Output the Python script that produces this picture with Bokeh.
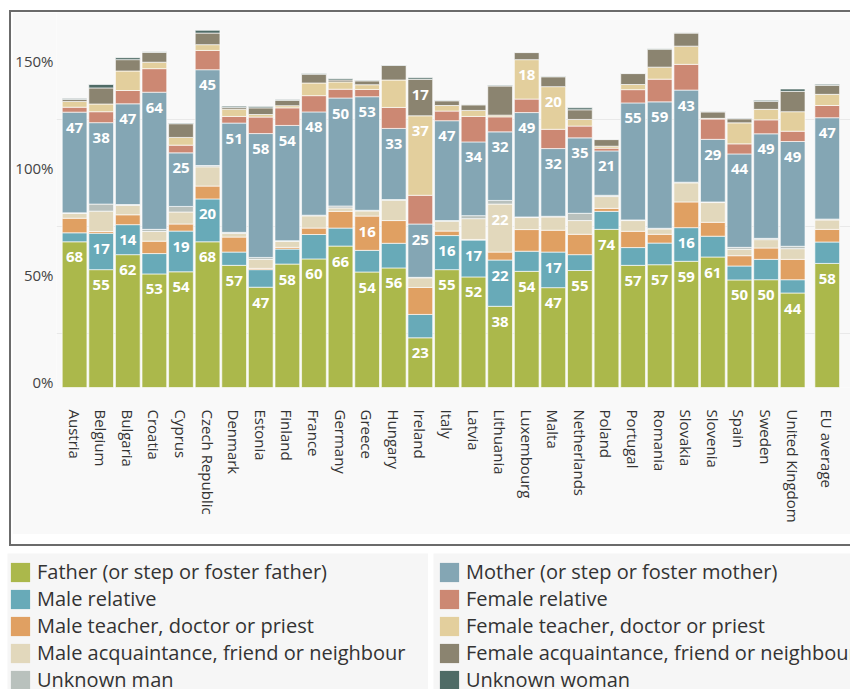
import numpy as np
from bokeh.plotting import figure
from bokeh.models import (ColumnDataSource, FixedTicker, Legend, LegendItem, Range1d, Div)
from bokeh.layouts import column, row
from bokeh.core.properties import value
from bokeh.embed import file_html
from bokeh.resources import INLINE

countries = ["Austria", "Belgium", "Bulgaria", "Croatia", "Cyprus", "Czech Republic",
             "Denmark", "Estonia", "Finland", "France", "Germany", "Greece", "Hungary",
             "Ireland", "Italy", "Latvia", "Lithuania", "Luxembourg", "Malta",
             "Netherlands", "Poland", "Portugal", "Romania", "Slovakia", "Slovenia",
             "Spain", "Sweden", "United Kingdom", "EU average"]

father = [68, 55, 62, 53, 54, 68, 57, 46.8, 57.6, 60, 66, 53.9, 55.8, 23.2, 55, 51.6, 37.9,
          54.2, 46.6, 54.6, 73.8, 57, 57.3, 58.9, 60.9, 50.2, 50.3, 44.1, 57.9]
male_relative = [4.2, 17, 14, 9.5, 19, 20, 6.2, 8.2, 7, 11.4, 8.4, 10.1, 11.5, 10.9, 15.9,
                 17.2, 21.6, 9.4, 16.6, 7.4, 8.4, 8.3, 10.1, 15.7, 9.7, 6.5, 9.5, 6.2, 10]
male_teacher = [6.8, 0.8, 4.6, 5.8, 3.3, 6, 7, 0.6, 0.8, 3, 7.8, 16, 10.6, 12.6, 2.1, 0.3,
                3.7, 10.1, 10.2, 9.5, 1.4, 7.6, 4.1, 12, 6.5, 4.8, 5.3, 9.5, 5.9]
male_acquaintance = [2.2, 9.5, 4.4, 4.5, 5.6, 9, 1.7, 4.2, 2.8, 5.7, 1.6, 2.4, 9.5, 4.5,
                     4.6, 9.7, 22.4, 5.6, 6.2, 6.4, 5.5, 5, 2.5, 8.9, 9.2, 3, 3.9, 5, 4.4]
unknown_man = [0.3, 3.3, 0.4, 1.0, 2.6, 0.6, 0.5, 0.9, 0.3, 0.3, 0.9, 0.3, 0.3, 0.2, 0.3,
               1.4, 1.7, 0.3, 0.3, 3.4, 0.6, 0.3, 0.3, 0.3, 0.3, 0.9, 0.6, 1.1, 0.4]
mother = [47, 38, 47, 64, 25, 44.7, 51, 57.8, 53.8, 48.2, 50.4, 53, 33.2, 24.9, 46.6, 34.4,
          32, 48.7, 31.6, 35.2, 20.7, 54.6, 59, 43, 29.2, 43.6, 48.8, 48.9, 47.3]
female_relative = [2.3, 5.1, 6.2, 11, 3.6, 9, 3.1, 7.7, 8.2, 7.6, 4.1, 3.4, 9.8, 13.4, 4.5,
                   11.9, 7, 6.3, 9, 5.5, 1.3, 6.2, 10.6, 12, 9.5, 4.7, 6.5, 4.8, 5.7]
female_teacher = [2.7, 3.6, 9.1, 3, 3.6, 2.7, 3.4, 1.2, 1, 5.9, 3.4, 2.2, 12.8, 37.1, 2.6,
                  2.8, 0.8, 18.4, 19.9, 3.1, 0.9, 2.4, 5.6, 8.5, 0.3, 9.8, 4.9, 9.1, 5.2]
female_acquaintance = [0.9, 7.5, 5.3, 4.6, 6.4, 5.4, 0.8, 3.1, 2.5, 4.1, 0.9, 1.8, 6.8, 17,
                       2.2, 2.6, 13.6, 3.3, 4.6, 4.5, 3.1, 5.1, 8.4, 6.1, 3, 1.9, 3.7, 9.5, 4.2]
unknown_woman = [0.5, 1.6, 0.9, 0.3, 0.3, 1.3, 0.6, 0.6, 0.4, 0.3, 0.6, 0.3, 0.2, 0.7, 0.2,
                 0.2, 0.3, 0.2, 0.2, 0.9, 0.2, 0.2, 0.2, 0.2, 0.2, 0.3, 0.5, 1.1, 0.5]

series_names = ["Father (or step or foster father)", "Male relative",
                "Male teacher, doctor or priest", "Male acquaintance, friend or neighbour",
                "Unknown man", "Mother (or step or foster mother)", "Female relative",
                "Female teacher, doctor or priest", "Female acquaintance, friend or neighbour",
                "Unknown woman"]
series_values = [father, male_relative, male_teacher, male_acquaintance, unknown_man,
                 mother, female_relative, female_teacher, female_acquaintance, unknown_woman]
colors = ["#abb84b", "#68aab8", "#e0a062", "#e2d8bc", "#b9c1bd",
          "#84a6b4", "#cc8873", "#e3cf9d", "#8b8470", "#4f6b66"]

y_ticks = [0, 50, 100, 150]
y_tick_labels = ["0%", "50%", "100%", "150%"]
grid_ticks = [25, 75, 125, 175]

FONT = "Open Sans"
DARK = "#6b6b6b"
WHITE = "white"
LABEL_RAISE = 2.35   # tick labels sit on their tick (baseline), not centred on it

# positions: countries side by side, EU average set a little apart
n = len(countries)
x_pos = [float(i) for i in range(n - 1)] + [n - 1 + 0.3]

keys = ["s%d" % i for i in range(len(series_values))]
data = {"x": x_pos}
for k, vals in zip(keys, series_values):
    data[k] = vals
src = ColumnDataSource(data)

p = figure(frame_width=796, frame_height=375, min_border_left=42, min_border_right=0,
           min_border_top=0, min_border_bottom=147,
           x_range=Range1d(-0.68, 29.25), y_range=Range1d(0, 175),
           toolbar_location=None, output_backend="svg")
p.background_fill_color = "#f9f9f9"
p.border_fill_color = "#f9f9f9"
p.outline_line_color = None

p.vbar_stack(keys, x="x", width=0.93, source=src, fill_color=colors,
             line_color="white", line_width=0.8, line_alpha=0.8)

# value labels for big segments
cum = np.zeros(n)
lx, ly, lt = [], [], []
for vals in series_values:
    v = np.array(vals, dtype=float)
    cum = cum + v
    for i in range(n):
        if v[i] >= 14:
            lx.append(x_pos[i])
            ly.append(cum[i])
            lt.append(str(int(round(v[i]))))
p.text(x=lx, y=ly, text=lt, text_align="center", text_baseline="middle",
       y_offset=15.5, text_color="white", text_font=value(FONT),
       text_font_style="bold", text_font_size="15px")

p.xgrid.visible = False
p.ygrid.ticker = FixedTicker(ticks=grid_ticks)
p.ygrid.grid_line_color = "#e9e9e9"

for ax in (p.xaxis, p.yaxis):
    ax.major_tick_line_color = None
    ax.minor_tick_line_color = None
    ax.major_tick_out = 0
    ax.major_tick_in = 0
    ax.minor_tick_out = 0
    ax.minor_tick_in = 0
    ax.axis_line_color = None
    ax.major_label_text_font = FONT
    ax.major_label_text_font_size = "15px"

label_pos = [t + LABEL_RAISE for t in y_ticks]
p.yaxis.ticker = FixedTicker(ticks=label_pos)
p.yaxis.major_label_overrides = {pos: lab for pos, lab in zip(label_pos, y_tick_labels)}
p.yaxis.major_label_standoff = 3
p.yaxis.major_label_text_color = "#444444"

p.xaxis.ticker = FixedTicker(ticks=x_pos)
p.xaxis.major_label_overrides = {x: c for x, c in zip(x_pos, countries)}
p.xaxis.major_label_orientation = -np.pi / 2
p.xaxis.major_label_standoff = 22
p.xaxis.major_label_text_color = "#333333"


def block(w, h, color):
    return Div(text="", width=w, height=h, margin=0,
               styles={"background-color": color})


chart_box = column(
    block(841, 2, DARK),
    row(block(2, 532, DARK), block(1, 532, WHITE),
        column(p, block(838, 10, WHITE))),
    block(841, 2, DARK),
)


def legend_fig(width, names, cols, xoff):
    lf = figure(width=width, height=136, toolbar_location=None, output_backend="svg",
                x_axis_type=None, y_axis_type=None, min_border=0,
                x_range=Range1d(0, 1), y_range=Range1d(0, 1),
                outline_line_color=None, background_fill_color="#f6f6f6",
                border_fill_color="#f6f6f6")
    lf.xgrid.visible = False
    lf.ygrid.visible = False
    items = []
    for nm, c in zip(names, cols):
        r = lf.vbar(x=[0], top=[0], bottom=[0], width=0, fill_color=c, line_color=None)
        items.append(LegendItem(label=nm, renderers=[r]))
    leg = Legend(items=items, location=(xoff, -4), glyph_width=24, glyph_height=24,
                 label_height=24, spacing=0, padding=0, margin=0, label_standoff=5,
                 label_text_font=FONT, label_text_font_size="20px",
                 label_text_color="#333333", background_fill_alpha=0,
                 border_line_color=None)
    lf.add_layout(leg, "center")
    return lf


leg1 = legend_fig(421, series_names[:5], colors[:5], 1)
leg2 = legend_fig(417, series_names[5:], colors[5:], 4)

layout = column(
    block(850, 10, WHITE),
    row(block(9, 536, WHITE), chart_box),
    block(850, 7, WHITE),
    row(block(7, 136, WHITE), leg1, block(5, 136, WHITE), leg2),
)

open("out.html", "w").write(file_html(layout, INLINE))
